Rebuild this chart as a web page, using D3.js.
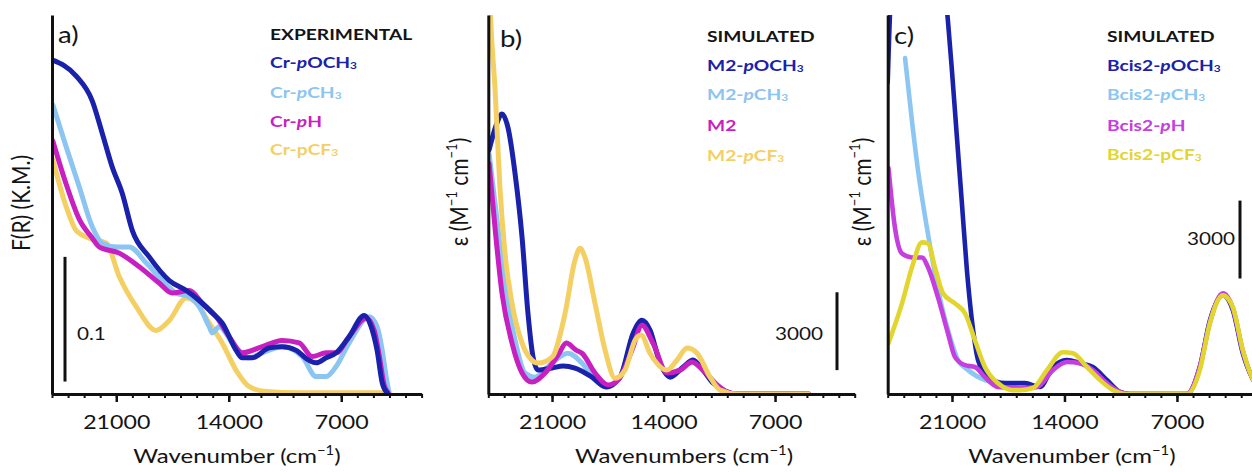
<!DOCTYPE html>
<html>
<head>
<meta charset="utf-8">
<script src="https://cdn.jsdelivr.net/npm/d3@7"></script>
<style>
  html, body { margin: 0; padding: 0; background: #fff; }
  svg { display: block; font-family: Lato, "Open Sans", sans-serif; }
</style>
</head>
<body>
<svg id="chart" width="1252" height="472"></svg>
<script>
// ---------- data: [wavenumber (cm-1), value] ----------
// a) experimental Kubelka-Munk spectra, F(R)
const expPOCH3 = [[25000,0.268],[23490,0.255],[22490,0.235],[21870,0.209],[21250,0.182],[20630,0.161],[20000,0.131],[18950,0.110],[17700,0.091],[16650,0.083],[15840,0.075],[15030,0.065],[14410,0.057],[13540,0.035],[13160,0.029],[12540,0.029],[11480,0.037],[10670,0.038],[9800,0.035],[9000,0.027],[8560,0.025],[7940,0.029],[7320,0.033],[6510,0.046],[5570,0.063],[5140,0.054],[4770,0.035],[4450,0.009],[4140,0.001]];
const expPCH3 = [[24950,0.232],[24110,0.198],[23300,0.166],[22490,0.134],[21870,0.121],[21000,0.118],[20190,0.118],[19130,0.105],[18140,0.091],[17270,0.081],[16460,0.078],[15840,0.070],[15220,0.054],[15030,0.049],[14590,0.054],[13780,0.041],[12730,0.029],[11920,0.033],[10670,0.038],[9430,0.030],[8560,0.014],[7940,0.014],[7320,0.022],[6510,0.041],[5260,0.062],[4770,0.054],[4450,0.035],[4210,0.014],[4020,0.001]];
const expPH = [[24950,0.203],[24110,0.168],[23300,0.140],[22490,0.125],[22060,0.118],[20810,0.113],[19570,0.102],[18330,0.089],[17520,0.081],[16460,0.083],[15650,0.073],[14780,0.062],[13970,0.046],[13160,0.033],[11920,0.038],[10670,0.043],[9620,0.041],[8810,0.030],[7940,0.033],[7320,0.033],[6510,0.046],[5450,0.061],[4950,0.051],[4640,0.031],[4330,0.007],[4080,0.001]];
const expPCF3 = [[24950,0.188],[24110,0.150],[23490,0.131],[22680,0.125],[21620,0.121],[20810,0.094],[19760,0.070],[18510,0.051],[17700,0.059],[16650,0.077],[16020,0.073],[15220,0.057],[14410,0.041],[13540,0.019],[12730,0.006],[11670,0.002],[9620,0.001],[4450,0.001]];

// b) simulated spectra of the M2 series, epsilon (M-1 cm-1)
const m2POCH3 = [[24950,9400],[24520,10330],[24140,10790],[23760,10250],[23320,8490],[22880,6030],[22510,3110],[22190,1420],[21880,920],[21000,1000],[20300,1080],[19560,1000],[18490,650],[17610,270],[16730,650],[15910,2340],[15350,2840],[14850,2460],[14220,1190],[13590,650],[12770,1040],[12150,1310],[11520,920],[10890,420],[10260,150],[9380,0],[4900,0]];
const m2PCH3 = [[24950,9250],[24450,6680],[23950,4110],[23320,2070],[22700,810],[22070,650],[21000,1190],[20000,1570],[19120,1190],[18300,540],[17550,270],[16730,650],[15910,2190],[15350,2650],[14660,1960],[13780,810],[12960,920],[12210,1230],[11520,920],[10640,350],[10010,80],[9380,0],[4900,0]];
const m2H = [[24950,8870],[24580,6410],[24140,3880],[23510,1960],[22880,810],[22260,460],[21440,810],[20620,1500],[20100,1960],[19490,1690],[19120,1570],[18300,810],[17480,350],[16850,540],[15980,1690],[15350,2650],[14660,1960],[13780,810],[12960,920],[12210,1230],[11520,920],[10640,350],[10010,80],[9380,0],[4900,0]];
const m2PCF3 = [[25000,17000],[24850,14400],[24580,11790],[24270,7950],[23950,5410],[23510,3490],[22880,1960],[22380,1380],[21880,1190],[21000,1420],[20180,3110],[19560,5150],[19240,5610],[18930,5260],[18300,3490],[17670,1690],[17040,610],[16420,920],[15790,2070],[15410,2270],[14850,1570],[13780,920],[13150,1310],[12520,1770],[11890,1570],[11080,650],[10450,150],[9380,0],[4900,0]];

// c) simulated spectra of the Bcis2 series, epsilon (M-1 cm-1)
const bcisPOCH3 = [[25000,12000],[24700,16500],[23500,19000],[22000,18000],[21250,14360],[21000,12440],[20690,9870],[20380,7330],[20070,4760],[19760,2840],[19380,1310],[18760,650],[17700,420],[16460,420],[15530,270],[14720,1040],[13850,1310],[13040,1190],[12230,1040],[11360,540],[10550,80],[9930,0],[6380,0],[5580,1040],[4950,2840],[4140,3800],[3520,3230],[2900,1570],[2340,650],[2000,300]];
const bcisPCH3 = [[23920,12940],[23490,10520],[23110,8600],[22560,6410],[22060,4650],[21620,3340],[21120,2190],[20630,1310],[20000,920],[18950,540],[18010,420],[16770,230],[15710,270],[14720,920],[13850,1310],[13040,1190],[12230,920],[11360,420],[10550,80],[9930,0],[6380,0],[5580,1000],[4950,2780],[4140,3840],[3520,3300],[2900,1650],[2340,650],[2000,280]];
const bcisPH = [[24950,8700],[24550,6410],[24110,5410],[23490,5260],[22870,5260],[22490,4880],[21870,3720],[21250,2340],[20810,1420],[20190,1110],[19570,1040],[18950,650],[18140,270],[16770,230],[15710,270],[14720,920],[13850,1230],[13040,1190],[12230,920],[11360,420],[10550,80],[9930,0],[6380,0],[5580,1040],[4950,2760],[4140,3880],[3520,3300],[2900,1650],[2340,650],[2000,300]];
const bcisPCF3 = [[24950,1960],[24110,3490],[23490,4880],[22870,5840],[22490,5800],[22060,4880],[21560,3880],[20810,3490],[20190,3110],[19570,2070],[18950,1040],[18140,420],[17270,150],[16770,150],[15960,230],[15090,920],[14100,1610],[13470,1570],[12600,1040],[11790,540],[10980,150],[10120,0],[6380,0],[5580,920],[4950,2730],[4140,3800],[3520,3340],[2900,1690],[2340,650],[2000,250]];

// axis ticks and labels
const wnDomain = [25000, 2000];
const wnMajorTicks = [21000, 14000, 7000];
const wnMinorTicks = d3.range(2000, 25001, 1000);

// legend texts (*x* = italic, _n = subscript, ^n = superscript)
const expNames = ["Cr-*p*OCH_3", "Cr-*p*CH_3", "Cr-*p*H", "Cr-pCF_3"];
const m2Names = ["M2-*p*OCH_3", "M2-*p*CH_3", "M2", "M2-*p*CF_3"];
const bcisNames = ["Bcis2-*p*OCH_3", "Bcis2-*p*CH_3", "Bcis2-*p*H", "Bcis2-pCF_3"];

const coloursAB = ["#1a22ac", "#8cc4f2", "#c81fc1", "#f4d064"];
const coloursC = ["#1a22ac", "#8cc6f2", "#c53ede", "#e2d530"];

// ---------- drawing ----------
const svg = d3.select("#chart");
const SX = 1.2;          // horizontal text stretch
const BASE = 394;        // x-axis baseline
const TOP = 15;          // top of plotting area
const INK = "#141414";

function richText(textSel, str, fs) {
  const parts = str.split(/(\*[^*]+\*|_\d+|\^[-\d]+)/).filter(s => s.length);
  let shift = 0;
  parts.forEach(p => {
    const t = textSel.append("tspan");
    if (p.startsWith("*")) {
      t.text(p.slice(1, -1)).attr("font-style", "italic").attr("dy", -shift); shift = 0;
    } else if (p.startsWith("_")) {
      const d = 0.5;
      t.text(p.slice(1)).attr("font-size", fs * 0.62).attr("dy", d - shift); shift = d;
    } else if (p.startsWith("^")) {
      const d = -fs * 0.42;
      t.text(p.slice(1).replace("-", "\u2212")).attr("font-size", fs * 0.62).attr("dy", d - shift); shift = d;
    } else {
      t.text(p).attr("dy", -shift); shift = 0;
    }
  });
}

function label(parent, x, y, str, opt) {
  const o = Object.assign({ size: 18, weight: 400, anchor: "start", fill: INK, sx: SX, rotate: 0, sy: 1 }, opt);
  const tr = o.rotate
    ? `translate(${x},${y}) rotate(${o.rotate}) scale(1,${o.sy})`
    : `translate(${x},${y}) scale(${o.sx},1)`;
  const t = parent.append("text")
    .attr("transform", tr)
    .attr("text-anchor", o.anchor)
    .attr("font-size", o.size)
    .attr("font-weight", o.weight)
    .attr("fill", o.fill);
  richText(t, str, o.size);
  return t;
}

const panels = [
  {
    key: "a", x0: 52, x1: 421.6, yMax: 0.304,
    series: [expPOCH3, expPCH3, expPH, expPCF3], names: expNames, header: "EXPERIMENTAL",
    colours: coloursAB, order: [3, 1, 2, 0], width: 5,
    legendX: 270, legendY: [40, 68, 98, 127, 155],
    tag: "a)", tagPos: [58, 43],
    yTitle: "F(R) (K.M.)", yTitlePos: [30, 203],
    xTitle: "Wavenumber (cm^-1)", xTitleX: 237,
    bar: { x: 65, from: 0.01, to: 0.11, text: "0.1", tx: 77, ty: 340, anchor: "start" }
  },
  {
    key: "b", x0: 488.3, x1: 854.7, yMax: 14600,
    series: [m2POCH3, m2PCH3, m2H, m2PCF3], names: m2Names, header: "SIMULATED",
    colours: coloursAB, order: [1, 0, 2, 3], width: 5,
    legendX: 707, legendY: [42, 71, 100, 131, 161],
    tag: "b)", tagPos: [500, 47],
    yTitle: "\u03b5 (M^-1 cm^-1)", yTitlePos: [468, 192],
    xTitle: "Wavenumbers (cm^-1)", xTitleX: 684,
    bar: { x: 837, from: 920, to: 3920, text: "3000", tx: 823, ty: 340, anchor: "end" }
  },
  {
    key: "c", x0: 887.7, x1: 1257.3, yMax: 14600,
    series: [bcisPOCH3, bcisPCH3, bcisPH, bcisPCF3], names: bcisNames, header: "SIMULATED",
    colours: coloursC, order: [1, 0, 2, 3], width: 4.6,
    legendX: 1107, legendY: [42, 71, 100, 131, 160],
    tag: "c)", tagPos: [894, 44],
    yTitle: "\u03b5 (M^-1 cm^-1)", yTitlePos: [871, 192],
    xTitle: "Wavenumber (cm^-1)", xTitleX: 1072,
    bar: { x: 1240, from: 4450, to: 7450, text: "3000", tx: 1235, ty: 245, anchor: "end" }
  }
];

panels.forEach(p => {
  const g = svg.append("g").attr("class", "panel-" + p.key);
  const x = d3.scaleLinear().domain(wnDomain).range([p.x0, p.x1]);
  const y = d3.scaleLinear().domain([0, p.yMax]).range([BASE, TOP]);

  // clip region for the spectra
  const clipId = "clip-" + p.key;
  svg.append("defs").append("clipPath").attr("id", clipId)
    .append("rect").attr("x", p.x0).attr("y", TOP).attr("width", p.x1 - p.x0 + 4).attr("height", BASE - TOP + 2);

  // spectra
  const line = d3.line().x(d => x(d[0])).y(d => y(d[1])).curve(d3.curveMonotoneX);
  const lines = g.append("g").attr("clip-path", `url(#${clipId})`);
  p.order.forEach(i => {
    lines.append("path")
      .datum(p.series[i])
      .attr("d", line)
      .attr("fill", "none")
      .attr("stroke", p.colours[i])
      .attr("stroke-width", p.width)
      .attr("stroke-linejoin", "round")
      .attr("stroke-linecap", "round");
  });

  // x axis: minor ticks every 1000 cm-1, labelled major ticks
  const minor = g.append("g").attr("transform", `translate(0,${BASE})`)
    .call(d3.axisBottom(x).tickValues(wnMinorTicks).tickSize(4).tickSizeOuter(0).tickFormat(""));
  minor.select(".domain").attr("stroke", "#111").attr("stroke-width", 3);
  minor.selectAll(".tick line").attr("stroke", "#111").attr("stroke-width", 2);

  const major = g.append("g").attr("transform", `translate(0,${BASE})`)
    .call(d3.axisBottom(x).tickValues(wnMajorTicks).tickSize(8).tickSizeOuter(0).tickFormat(d3.format("d")));
  major.select(".domain").remove();
  major.selectAll(".tick line").attr("stroke", "#111").attr("stroke-width", 2.5);
  major.selectAll(".tick text")
    .attr("y", 35).attr("dy", 0)
    .attr("transform", `scale(1.22,1)`)
    .attr("font-size", 19).attr("font-family", "Lato, 'Open Sans', sans-serif")
    .attr("fill", INK);

  // y axis line (no ticks)
  const yAxis = g.append("g").attr("transform", `translate(${p.x0},0)`)
    .call(d3.axisLeft(y).tickValues([]).tickSizeOuter(0));
  yAxis.select(".domain").attr("stroke", "#111").attr("stroke-width", 3);

  // scale bar
  g.append("line")
    .attr("x1", p.bar.x).attr("x2", p.bar.x)
    .attr("y1", y(p.bar.from)).attr("y2", y(p.bar.to))
    .attr("stroke", "#111").attr("stroke-width", 3);
  label(g, p.bar.tx, p.bar.ty, p.bar.text, { size: 18, anchor: p.bar.anchor, sx: 1.15 });

  // panel tag
  label(g, p.tagPos[0], p.tagPos[1], p.tag, { size: 23 });

  // axis titles
  label(g, p.xTitleX, 463, p.xTitle, { size: 20, anchor: "middle", sx: 1.2 });
  label(g, p.yTitlePos[0], p.yTitlePos[1], p.yTitle, { size: 21, anchor: "middle", rotate: -90, sy: 1.2 });

  // legend
  label(g, p.legendX, p.legendY[0], p.header, { size: 16, weight: 700 });
  p.names.forEach((n, i) => {
    label(g, p.legendX, p.legendY[i + 1], n, { size: 16, weight: 700, fill: p.colours[i] });
  });
});
</script>
</body>
</html>
